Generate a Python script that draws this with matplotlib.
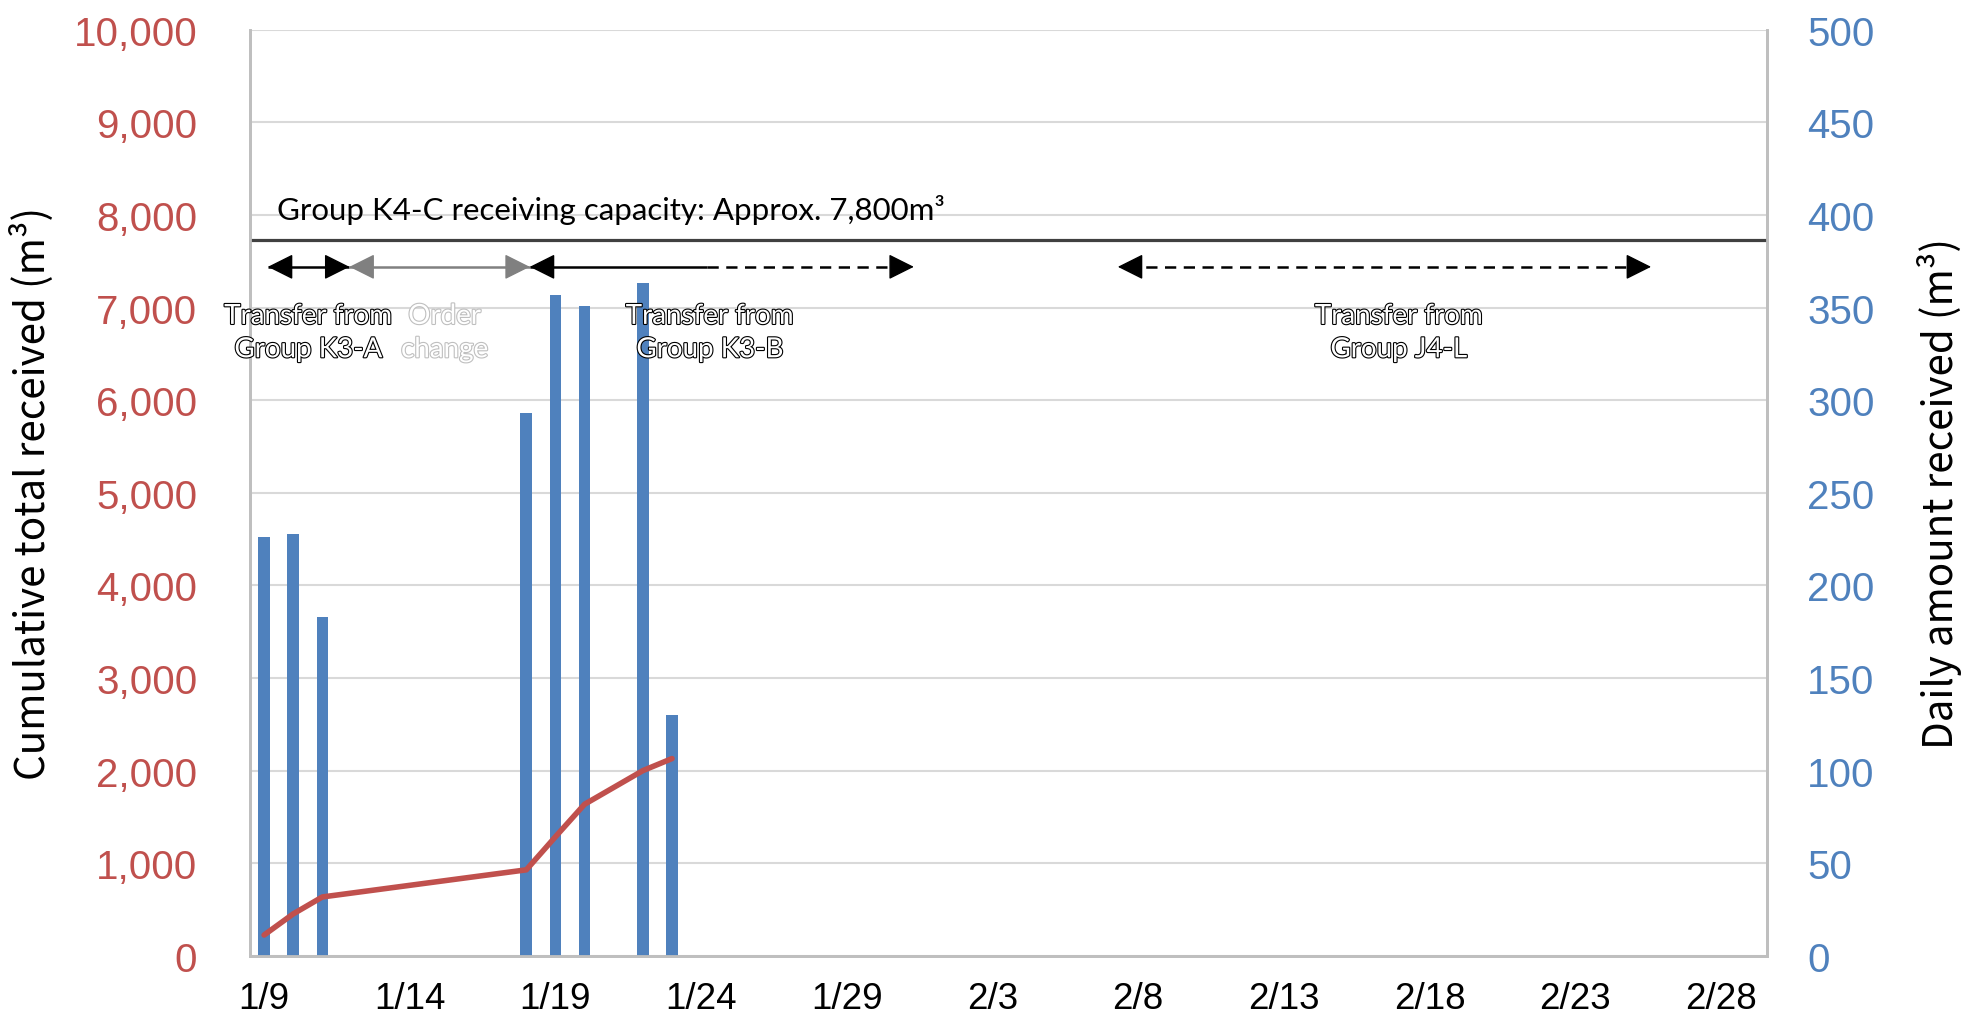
import matplotlib
matplotlib.use("Agg")
import matplotlib.pyplot as plt
import matplotlib.dates as mdates
import matplotlib.patheffects as pe
import pandas as pd

# Daily deliveries (right axis) and running total (left axis)
bar_dates = ["2016-01-09", "2016-01-10", "2016-01-11", "2016-01-18",
             "2016-01-19", "2016-01-20", "2016-01-22", "2016-01-23"]
daily_amount = [226, 228, 183, 293, 357, 351, 363, 130]

line_dates = ["2016-01-09", "2016-01-10", "2016-01-11", "2016-01-18",
              "2016-01-19", "2016-01-20", "2016-01-22", "2016-01-23"]
cumulative = [226, 454, 637, 930, 1287, 1638, 2001, 2131]

tick_dates = ["2016-01-09", "2016-01-14", "2016-01-19", "2016-01-24", "2016-01-29",
              "2016-02-03", "2016-02-08", "2016-02-13", "2016-02-18", "2016-02-23",
              "2016-02-28"]
tick_labels = ["1/9", "1/14", "1/19", "1/24", "1/29", "2/3", "2/8", "2/13",
               "2/18", "2/23", "2/28"]

left_ticks = list(range(0, 10001, 1000))
right_ticks = list(range(0, 501, 50))

capacity_level = 7730
capacity_text = "Group K4-C receiving capacity: Approx. 7,800m³"

bar_x = mdates.date2num(pd.to_datetime(bar_dates))
line_x = mdates.date2num(pd.to_datetime(line_dates))
tick_x = mdates.date2num(pd.to_datetime(tick_dates))
d0 = tick_x[0]

RED = "#C0504D"
BLUE = "#4F81BD"
GRID = "#D9D9D9"
SPINE = "#BFBFBF"
narrow = ["Liberation Sans", "DejaVu Sans"]
label_font = ["Noto Sans CJK JP", "DejaVu Sans"]
note_font = ["Lato", "DejaVu Sans"]

fig = plt.figure(figsize=(19.66, 10.2), dpi=100)
ax = fig.add_axes([0.1272, 0.0618, 0.7716, 0.9081])
ax2 = ax.twinx()

# bars on the secondary axis, grid drawn there so it sits behind the bars
ax2.bar(bar_x, daily_amount, width=0.4, color=BLUE, zorder=3)
ax2.set_ylim(0, 500)
ax2.set_yticks(right_ticks)
ax2.grid(axis="y", color=GRID, linewidth=1.5, zorder=0)
ax2.set_axisbelow(True)

# cumulative line on the primary axis, kept on top
ax.set_zorder(ax2.get_zorder() + 1)
ax.patch.set_visible(False)
ax.plot(line_x, cumulative, color=RED, linewidth=4, solid_capstyle="round")
ax.set_ylim(0, 10000)
ax.set_yticks(left_ticks)
ax.set_yticklabels([f"{v:,}" for v in left_ticks])
ax.set_xlim(d0 - 0.48, d0 + 51.58)
ax.set_xticks(tick_x)
ax.set_xticklabels(tick_labels)

for a in (ax, ax2):
    for s in a.spines.values():
        s.set_color(SPINE)
        s.set_linewidth(2)
    a.spines["top"].set_visible(False)
    a.tick_params(length=0)

ax.tick_params(axis="y", colors=RED, labelsize=29, pad=38)
ax.tick_params(axis="x", colors="black", labelsize=26.5, pad=18)
ax2.tick_params(axis="y", colors=BLUE, labelsize=29, pad=29)
for lab in ax.get_yticklabels() + ax.get_xticklabels() + ax2.get_yticklabels():
    lab.set_family(narrow)

ax.set_ylabel("Cumulative total received (m³)", fontsize=29, family=label_font)
ax.yaxis.set_label_coords(-0.129, 0.5)
ax2.set_ylabel("Daily amount received (m³)", fontsize=29, family=label_font, rotation=90)
ax2.yaxis.set_label_coords(1.099, 0.5)

# capacity line and text
ax.axhline(capacity_level, color="#404040", linewidth=2.3)
ax.text(d0 + 0.44, 8060, capacity_text, fontsize=22.5, family=note_font,
        va="center", ha="left", color="black")

# period arrows
arrow_y = 7440
dash = (0, (4.5, 3))

def shaft(x1, x2, color="black", ls="-"):
    ax.plot([d0 + x1, d0 + x2], [arrow_y, arrow_y], color=color, lw=1.8,
            linestyle=ls, solid_capstyle="butt")

def head(x, direction, color="black"):
    # tiny arrow pointing at x, direction +1 right, -1 left
    ax.annotate("", xy=(d0 + x, arrow_y), xytext=(d0 + x - direction * 0.6, arrow_y),
                arrowprops=dict(arrowstyle="-|>,head_length=0.8,head_width=0.4",
                                color=color, lw=1.0, shrinkA=0, shrinkB=0,
                                mutation_scale=20))

shaft(0.13, 2.93)
head(0.13, -1)
head(2.93, 1)
shaft(2.93, 9.12, color="#808080")
head(2.93, -1, color="#808080")
head(9.12, 1, color="#808080")
shaft(9.12, 15.2)
shaft(15.2, 22.0, ls=dash)
head(9.12, -1)
head(22.3, 1)
shaft(29.6, 47.3, ls=dash)
head(29.3, -1)
head(47.6, 1)

outline = [pe.withStroke(linewidth=1.6, foreground="black")]
outline_grey = [pe.withStroke(linewidth=1.6, foreground="#BFBFBF")]
notes = [(1.52, "Transfer from\nGroup K3-A", outline),
         (6.2, "Order\nchange", outline_grey),
         (15.3, "Transfer from\nGroup K3-B", outline),
         (38.95, "Transfer from\nGroup J4-L", outline)]
for x, txt, eff in notes:
    ax.text(d0 + x, 6730, txt, fontsize=20, family=note_font, color="white",
            ha="center", va="center", linespacing=1.35, path_effects=eff)

fig.savefig("out.png", dpi=100)
